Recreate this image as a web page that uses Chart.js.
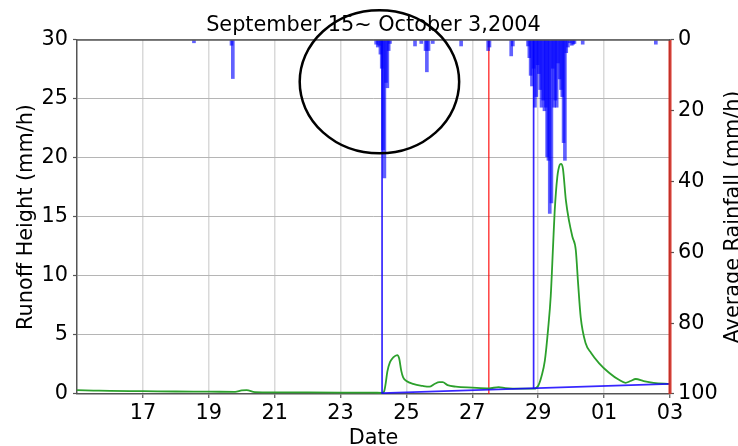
<!DOCTYPE html>
<html><head><meta charset="utf-8">
<script src="https://cdn.jsdelivr.net/npm/chart.js@4/dist/chart.umd.min.js"></script>
<style>html,body{margin:0;padding:0;background:#fff;overflow:hidden}#wrap{width:738px;height:446px;position:relative}</style>
</head><body><div id="wrap"><canvas id="c" width="738" height="446"></canvas></div>
<script>
// ---- data (days counted from Sep 1; 31 = Oct 1, 33 = Oct 3) ----
const titleText = 'September 15~ October 3,2004';
const xTickValues = [17, 19, 21, 23, 25, 27, 29, 31, 33];
const xTickLabels = ['17', '19', '21', '23', '25', '27', '29', '01', '03'];
const runoffDays = [15.0, 15.5, 16.0, 17.0, 18.0, 19.0, 19.8, 20.0, 20.15, 20.4, 21.0, 22.0, 23.0, 24.0, 24.26,
  24.32, 24.37, 24.42, 24.5, 24.6, 24.72, 24.78, 24.84, 24.9, 25.0, 25.2, 25.5, 25.7, 25.85, 26.0, 26.1, 26.25,
  26.5, 27.0, 27.5, 27.8, 28.0, 28.5, 28.88, 29.0, 29.1, 29.2, 29.3, 29.38, 29.45, 29.5, 29.58, 29.65, 29.69,
  29.75, 29.84, 29.94, 30.04, 30.14, 30.21, 30.29, 30.44, 30.6, 30.85, 31.15, 31.45, 31.65, 31.8, 31.96, 32.2, 32.5, 33.0];
const runoffValues = [0.32, 0.29, 0.26, 0.24, 0.21, 0.2, 0.18, 0.3, 0.32, 0.16, 0.14, 0.13, 0.12, 0.11, 0.1,
  0.2, 0.9, 1.9, 2.7, 3.1, 3.3, 3.0, 2.0, 1.4, 1.1, 0.85, 0.68, 0.62, 0.85, 1.0, 1.0, 0.75,
  0.62, 0.54, 0.48, 0.58, 0.5, 0.45, 0.45, 0.7, 1.5, 2.8, 5.5, 8.3, 12.5, 15.5, 18.4, 19.4, 19.5,
  19.1, 16.4, 14.6, 13.3, 12.2, 9.4, 6.5, 4.3, 3.5, 2.6, 1.8, 1.2, 0.95, 1.1, 1.27, 1.1, 0.95, 0.85];
const rainDays = [18.55, 19.69, 19.73,
  24.08, 24.13, 24.17, 24.21, 24.25, 24.29, 24.33, 24.38, 24.42, 24.46, 24.50,
  25.26, 25.45, 25.58, 25.62, 25.67, 25.80, 26.66, 27.48, 27.52, 28.18, 28.23,
  28.69, 28.73, 28.77, 28.81, 28.86, 28.90, 28.94, 28.98, 29.02, 29.06, 29.10, 29.15, 29.19, 29.23,
  29.27, 29.31, 29.35, 29.40, 29.44, 29.48, 29.52, 29.56, 29.60, 29.65, 29.69, 29.73, 29.77, 29.81,
  29.85, 29.90, 29.96, 30.02, 30.06, 30.10, 30.35, 32.57];
const rainValues = [0.8, 1.5, 10.9,
  1.2, 2.0, 1.5, 4.0, 8.0, 31.0, 39.0, 12.0, 13.5, 3.0, 1.0,
  1.7, 1.0, 3.0, 9.0, 3.0, 1.0, 1.7, 3.0, 2.0, 4.5, 1.7,
  1.7, 5.0, 10.0, 13.0, 8.0, 19.0, 16.0, 7.0, 9.5, 14.0, 19.0, 17.0, 20.0, 19.0,
  33.0, 34.0, 49.0, 46.0, 8.0, 19.0, 17.0, 19.0, 6.5, 11.0, 14.0, 16.0, 29.0, 34.0,
  3.6, 2.0, 0.8, 1.5, 1.2, 1.0, 1.2, 1.2];
const sepLineDays = [24.26, 24.26, 33.0];
const sepLineValues = [30, 0.08, 0.85];
const riseLineDays = [28.86, 28.86];
const riseLineValues = [0.49, 30];
const markerDays = [27.5, 33.0];
const circleCenter = [24.18, 26.45];   // day, runoff units
const circleRadius = [2.42, 6.06];

const FONT = 'DejaVu Sans';
const FS = 20.8;
const pts = (xs, ys) => xs.map((x, i) => ({x: x, y: ys[i]}));

const extras = {
  id: 'extras',
  afterDraw(chart) {
    const {ctx, chartArea: a, scales} = chart;
    const x = scales.x, y = scales.y;
    ctx.save();
    // top spine
    ctx.strokeStyle = '#555'; ctx.lineWidth = 1.5;
    ctx.beginPath(); ctx.moveTo(a.left, a.top); ctx.lineTo(a.right, a.top); ctx.stroke();
    // annotation ellipse
    const cx = x.getPixelForValue(circleCenter[0]);
    const cy = y.getPixelForValue(circleCenter[1]);
    const rx = x.getPixelForValue(circleCenter[0] + circleRadius[0]) - cx;
    const ry = cy - y.getPixelForValue(circleCenter[1] + circleRadius[1]);
    ctx.strokeStyle = '#000'; ctx.lineWidth = 2.5;
    ctx.beginPath(); ctx.ellipse(cx, cy, rx, ry, 0, 0, Math.PI * 2); ctx.stroke();
    // right axis title (reads bottom to top)
    ctx.translate(734, (a.top + a.bottom) / 2);
    ctx.rotate(-Math.PI / 2);
    ctx.fillStyle = '#000';
    ctx.font = FS + 'px "' + FONT + '"';
    ctx.textAlign = 'center'; ctx.textBaseline = 'middle';
    ctx.fillText('Average Rainfall (mm/h)', 0, 0);
    ctx.restore();
  }
};

const datasets = [
  {type: 'bar', label: 'rain', data: pts(rainDays, rainValues), yAxisID: 'y2',
   backgroundColor: 'rgba(0,0,255,0.62)', borderWidth: 0, barThickness: 3, grouped: false, order: 0},
  {type: 'line', label: 'runoff', data: pts(runoffDays, runoffValues), yAxisID: 'y',
   borderColor: '#2ca02c', borderWidth: 1.8, pointRadius: 0, cubicInterpolationMode: 'monotone', order: 3},
  {type: 'line', label: 'sep', data: pts(sepLineDays, sepLineValues), yAxisID: 'y',
   borderColor: 'rgba(20,0,255,0.85)', borderWidth: 1.7, pointRadius: 0, tension: 0, order: 2},
  {type: 'line', label: 'rise', data: pts(riseLineDays, riseLineValues), yAxisID: 'y',
   borderColor: 'rgba(20,0,255,0.85)', borderWidth: 1.7, pointRadius: 0, tension: 0, order: 2},
  {type: 'line', label: 'ev1', data: pts([markerDays[0], markerDays[0]], [0, 30]), yAxisID: 'y',
   borderColor: 'rgba(255,0,0,0.75)', borderWidth: 1.5, pointRadius: 0, order: 4},
  {type: 'line', label: 'ev2', data: pts([markerDays[1], markerDays[1]], [0, 30]), yAxisID: 'y',
   borderColor: 'rgba(220,40,30,0.8)', borderWidth: 3.2, pointRadius: 0, order: 1, clip: false}
];

new Chart(document.getElementById('c'), {
  type: 'line',
  data: {datasets},
  options: {
    responsive: false, animation: false, devicePixelRatio: 1,
    layout: {padding: 0},
    plugins: {
      legend: {display: false}, tooltip: {enabled: false},
      title: {display: true, text: titleText, fullSize: false, color: '#000',
        font: {family: FONT, size: FS, weight: 'normal', lineHeight: 1.2}, padding: {top: 13.5, bottom: 1.5}}
    },
    scales: {
      x: {type: 'linear', min: 15, max: 33, offset: false,
        afterBuildTicks: s => { s.ticks = xTickValues.map(v => ({value: v})); },
        afterFit: s => { s.height = 52; },
        ticks: {autoSkip: false, maxRotation: 0, padding: 3, color: '#000',
          font: {family: FONT, size: FS},
          callback: v => xTickLabels[xTickValues.indexOf(v)]},
        grid: {offset: false, color: '#d9d9d9', lineWidth: 1.5, tickLength: 4, tickColor: '#555', tickWidth: 1.2},
        border: {color: '#555', width: 1.5},
        title: {display: true, text: 'Date', color: '#000', font: {family: FONT, size: FS, lineHeight: 0.6}, padding: {bottom: 1}}
      },
      y: {position: 'left', min: 0, max: 30,
        afterFit: s => { s.width = 77; },
        ticks: {stepSize: 5, padding: 5, color: '#000', font: {family: FONT, size: FS}},
        grid: {color: '#b5b5b5', lineWidth: 1, tickLength: 4, tickColor: '#555', tickWidth: 1.2},
        border: {color: '#555', width: 1.5},
        title: {display: true, text: 'Runoff Height (mm/h)', color: '#000', font: {family: FONT, size: FS, lineHeight: 1.2}, padding: {top: 13.7}}
      },
      y2: {position: 'right', min: 0, max: 100, reverse: true,
        afterFit: s => { s.width = 68; },
        ticks: {stepSize: 20, padding: 4, color: '#000', font: {family: FONT, size: FS}},
        grid: {drawOnChartArea: false, tickLength: 4, tickColor: '#555', tickWidth: 1.2},
        border: {color: '#555', width: 1.5}
      }
    }
  },
  plugins: [extras]
});
</script></body></html>
